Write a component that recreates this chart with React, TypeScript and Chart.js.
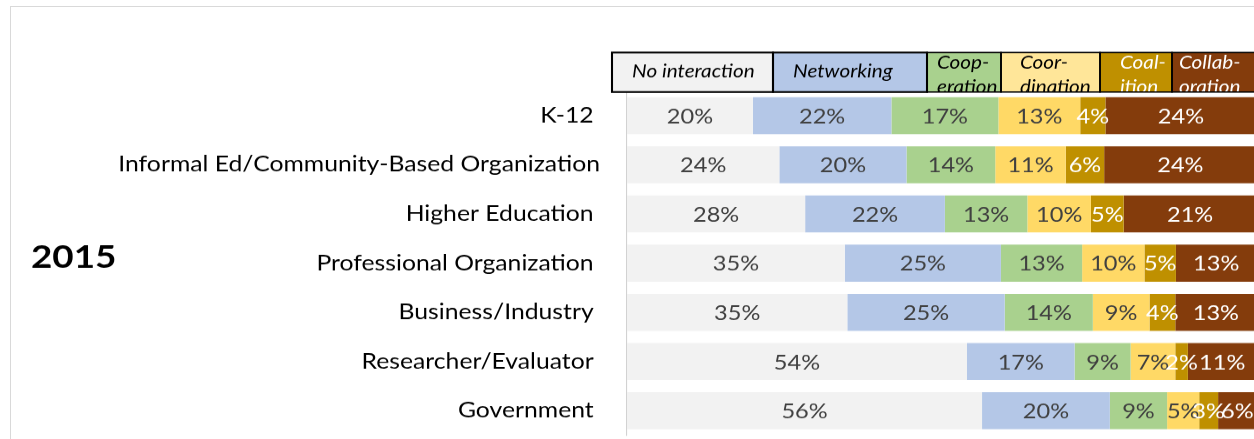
import React, { useEffect, useRef } from 'react';
import { Chart, registerables } from 'chart.js';

Chart.register(...registerables);

// ---------- data ----------
const categories = [
  'K-12 ',
  'Informal Ed/Community-Based Organization',
  'Higher Education ',
  'Professional Organization ',
  'Business/Industry ',
  'Researcher/Evaluator ',
  'Government ',
];
const seriesNames = ['No interaction', 'Networking', 'Cooperation', 'Coordination', 'Coalition', 'Collaboration'];
const legendLines = [['No interaction'], ['Networking'], ['Coop-', 'eration'], ['Coor-', 'dination'], ['Coal-', 'ition'], ['Collab-', 'oration']];
const noInteraction = [20.0, 24.2, 28.3, 34.6, 35.0, 54.0, 56.4];
const networking = [22.0, 20.2, 22.2, 24.8, 25.0, 17.1, 20.3];
const cooperation = [17.0, 14.1, 13.1, 12.9, 14.0, 8.9, 9.1];
const coordination = [13.0, 11.2, 10.1, 9.9, 9.0, 7.1, 5.1];
const coalition = [4.0, 6.1, 5.2, 5.0, 4.1, 2.0, 3.0];
const collaboration = [24.0, 24.2, 21.1, 12.8, 12.9, 10.9, 6.1];
const seriesValues = [noInteraction, networking, cooperation, coordination, coalition, collaboration];
const yearLabel = '2015';

// ---------- style ----------
const barColors = ['#F2F2F2', '#B4C7E7', '#A9D18E', '#FFD966', '#BF9000', '#843C0C'];
const legendFills = ['#F2F2F2', '#B4C7E7', '#A9D18E', '#FFE699', '#BF9000', '#843C0C'];
const dataLabelColors = ['#404040', '#404040', '#404040', '#404040', '#FFFFFF', '#FFFFFF'];
const legendTextColors = ['#000000', '#000000', '#000000', '#000000', '#FFFFFF', '#FFFFFF'];

const K = 1.15; // horizontal stretch of the original picture
const CW = 1100; // logical width
const CH = 480; // logical height
const FONT = 'Lato';

// legend layout (screen px)
const legendEdges = [612, 773, 927, 1001, 1100, 1172, 1266];
const legendTextX = [632, 793, 937, 1020, 1120, 1179];
const legendTop = 52.5;
const legendBottom = 92;

const overlayPlugin = {
  id: 'overlay',
  afterDatasetsDraw(chart: any) {
    const ctx = chart.ctx;
    ctx.save();
    ctx.font = `20.5px ${FONT}`;
    ctx.textAlign = 'center';
    ctx.textBaseline = 'middle';
    chart.data.datasets.forEach((ds: any, di: number) => {
      const meta = chart.getDatasetMeta(di);
      meta.data.forEach((el: any, i: number) => {
        const p = el.getProps(['x', 'y', 'base'], true);
        ctx.fillStyle = dataLabelColors[di];
        ctx.fillText(Math.round(ds.data[i]) + '%', (p.x + p.base) / 2, p.y + 1);
      });
    });
    ctx.restore();
  },
  afterDraw(chart: any) {
    const ctx = chart.ctx;
    ctx.save();
    // legend
    for (let i = 0; i < seriesNames.length; i++) {
      const x0 = legendEdges[i] / K;
      const x1 = legendEdges[i + 1] / K;
      ctx.fillStyle = legendFills[i];
      ctx.fillRect(x0, legendTop, x1 - x0, legendBottom - legendTop);
      ctx.save();
      ctx.beginPath();
      ctx.rect(x0, legendTop, x1 - x0, legendBottom - legendTop);
      ctx.clip();
      ctx.font = `italic 18px ${FONT}`;
      ctx.textAlign = 'left';
      ctx.textBaseline = 'alphabetic';
      ctx.fillStyle = legendTextColors[i];
      const lines = legendLines[i];
      if (lines.length === 1) {
        ctx.fillText(lines[0], legendTextX[i] / K, 77);
      } else {
        ctx.fillText(lines[0], legendTextX[i] / K, 69);
        ctx.fillText(lines[1], legendTextX[i] / K, 93);
      }
      ctx.restore();
    }
    ctx.strokeStyle = '#000000';
    for (let i = 0; i < seriesNames.length; i++) {
      const x0 = legendEdges[i] / K;
      const x1 = legendEdges[i + 1] / K;
      ctx.lineWidth = i < 2 ? 1.8 : 1.4;
      ctx.strokeRect(x0, legendTop, x1 - x0, legendBottom - legendTop);
    }
    // year label
    ctx.font = `bold 32px ${FONT}`;
    ctx.fillStyle = '#000000';
    ctx.textAlign = 'left';
    ctx.textBaseline = 'alphabetic';
    ctx.fillText(yearLabel, 31 / K, 268);
    ctx.restore();
  },
};

export default function App() {
  const ref = useRef<HTMLCanvasElement>(null);

  useEffect(() => {
    const canvas = ref.current;
    if (!canvas) return;
    const chart = new Chart(canvas, {
      type: 'bar',
      data: {
        labels: categories,
        datasets: seriesNames.map((name, i) => ({
          label: name,
          data: seriesValues[i],
          backgroundColor: barColors[i],
          borderWidth: 0,
          barPercentage: 0.753,
          categoryPercentage: 1,
        })),
      },
      options: {
        responsive: false,
        animation: false,
        devicePixelRatio: K,
        indexAxis: 'y',
        layout: { padding: { left: 0, right: CW - 1256.5 / K, top: 91, bottom: CH - 435.3 } },
        plugins: { legend: { display: false }, tooltip: { enabled: false } },
        scales: {
          x: { display: false, stacked: true, min: 0, max: 100 },
          y: {
            stacked: true,
            grid: { display: false, drawTicks: false },
            border: { display: true, color: '#D0D0D0', width: 0.9 },
            ticks: { color: '#000000', font: { family: FONT, size: 21.5 }, padding: (627 - 600) / K, autoSkip: false },
            afterFit: (s: any) => {
              s.width = 627 / K;
            },
          },
        },
      },
      plugins: [overlayPlugin],
    } as any);
    return () => chart.destroy();
  }, []);

  return (
    <div style={{ position: 'fixed', left: 0, top: 0, width: 1254, height: 439, overflow: 'hidden', background: '#ffffff' }}>
      <div
        style={{
          position: 'absolute',
          left: 10,
          top: 6,
          width: 2000,
          height: 2000,
          borderLeft: '1px solid #D9D9D9',
          borderTop: '1px solid #D9D9D9',
        }}
      />
      <canvas
        ref={ref}
        width={CW}
        height={CH}
        style={{ position: 'absolute', left: 0, top: 0, width: `${Math.floor(CW * K)}px`, height: `${CH}px` }}
      />
    </div>
  );
}
